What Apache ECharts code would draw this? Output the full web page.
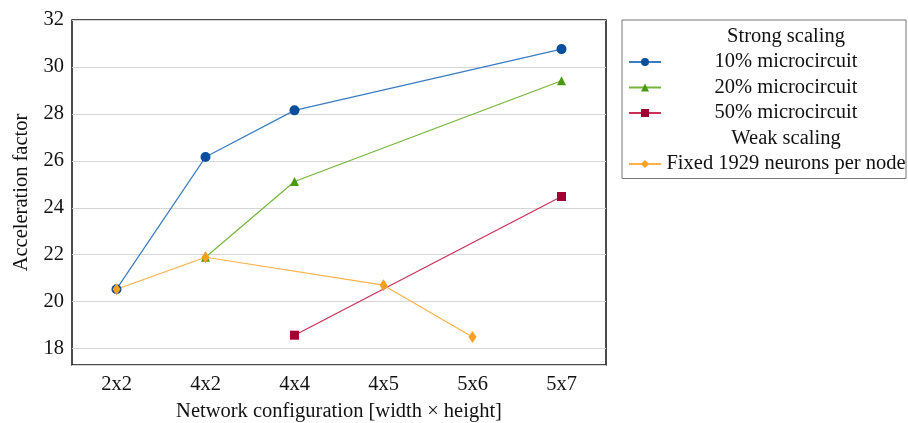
<!DOCTYPE html>
<html>
<head>
<meta charset="utf-8">
<script src="https://cdn.jsdelivr.net/npm/echarts@6/dist/echarts.min.js"></script>
<style>html,body{margin:0;padding:0;background:#fff;}#c{width:908px;height:423px;}</style>
</head>
<body>
<div id="c"></div>
<script>
var categories = ['2x2', '4x2', '4x4', '4x5', '5x6', '5x7'];
var strong10 = [20.53, 26.16, 28.15, null, null, 30.76];
var strong20 = [null, 21.89, 25.12, null, null, 29.41];
var strong50 = [null, null, 18.57, null, null, 24.48];
var weakFixed = [20.53, 21.89, null, 20.70, 18.49, null];
var yTicks = [18, 20, 22, 24, 26, 28, 30, 32];

var FONT = 'Liberation Serif';
var FS = 20.5;
var chart = echarts.init(document.getElementById('c'), null, {renderer: 'canvas'});

function lineSeries(name, data, lineColor, markColor, symbol, size) {
  return {
    name: name, type: 'line', data: data, connectNulls: true,
    symbol: symbol, symbolSize: size, showAllSymbol: true,
    lineStyle: {color: lineColor, width: 1.2},
    itemStyle: {color: markColor},
    emphasis: {disabled: true},
    animation: false
  };
}

chart.setOption({
  animation: false,
  backgroundColor: '#fff',
  textStyle: {fontFamily: FONT},
  grid: {left: 72, top: 20, right: 302, bottom: 58, show: true, borderColor: '#111', borderWidth: 1.5, backgroundColor: 'transparent', containLabel: false, outerBoundsMode: 'none'},
  legend: {
    orient: 'vertical', left: 622, top: 20,
    padding: [6, 0, 4, 6],
    itemWidth: 32, itemHeight: 10, itemGap: 4.5,
    borderColor: '#777', borderWidth: 1,
    backgroundColor: '#fff',
    selectedMode: false,
    formatter: function (n) { return '{t|' + n + '}'; },
    textStyle: {
      fontFamily: FONT, fontSize: FS, lineHeight: 20.5, color: '#111',
      rich: {t: {width: 240, align: 'center', fontFamily: FONT, fontSize: FS, lineHeight: 20.5, color: '#111'}}
    },
    data: [
      {name: 'Strong scaling', icon: 'none'},
      '10% microcircuit', '20% microcircuit', '50% microcircuit',
      {name: 'Weak scaling', icon: 'none'},
      'Fixed 1929 neurons per node'
    ]
  },
  xAxis: {
    type: 'category', data: categories, boundaryGap: true,
    name: 'Network configuration [width \u00d7 height]', nameLocation: 'middle', nameGap: 36,
    nameTextStyle: {fontFamily: FONT, fontSize: FS, color: '#111'},
    axisLine: {show: false}, axisTick: {show: false},
    axisLabel: {fontFamily: FONT, fontSize: FS, color: '#111', margin: 9},
    splitLine: {show: false}
  },
  yAxis: {
    type: 'value', min: 17.3, max: 32, splitNumber: 7,
    name: 'Acceleration factor', nameLocation: 'middle', nameGap: 33,
    nameTextStyle: {fontFamily: FONT, fontSize: FS, color: '#111'},
    axisLine: {show: false}, axisTick: {show: false},
    axisLabel: {
      fontFamily: FONT, fontSize: FS, color: '#111', margin: 8,
      formatter: function (v) { return yTicks.indexOf(Math.round(v * 1000) / 1000) >= 0 ? String(v) : ''; }
    },
    splitLine: {show: true, lineStyle: {color: '#d6d6d6', width: 1}}
  },
  series: [
    {name: 'Strong scaling', type: 'line', data: [], symbol: 'none', lineStyle: {color: 'transparent'}, itemStyle: {color: 'transparent'}},
    lineSeries('10% microcircuit', strong10, '#3a7cc2', '#0a4f9e', 'circle', 10),
    lineSeries('20% microcircuit', strong20, '#74b53c', '#4a9a10', 'triangle', 9),
    lineSeries('50% microcircuit', strong50, '#c83058', '#a00032', 'rect', 9),
    {name: 'Weak scaling', type: 'line', data: [], symbol: 'none', lineStyle: {color: 'transparent'}, itemStyle: {color: 'transparent'}},
    lineSeries('Fixed 1929 neurons per node', weakFixed, '#ffb24a', '#f5a020', 'diamond', [8, 12])
  ]
});
</script>
</body>
</html>
